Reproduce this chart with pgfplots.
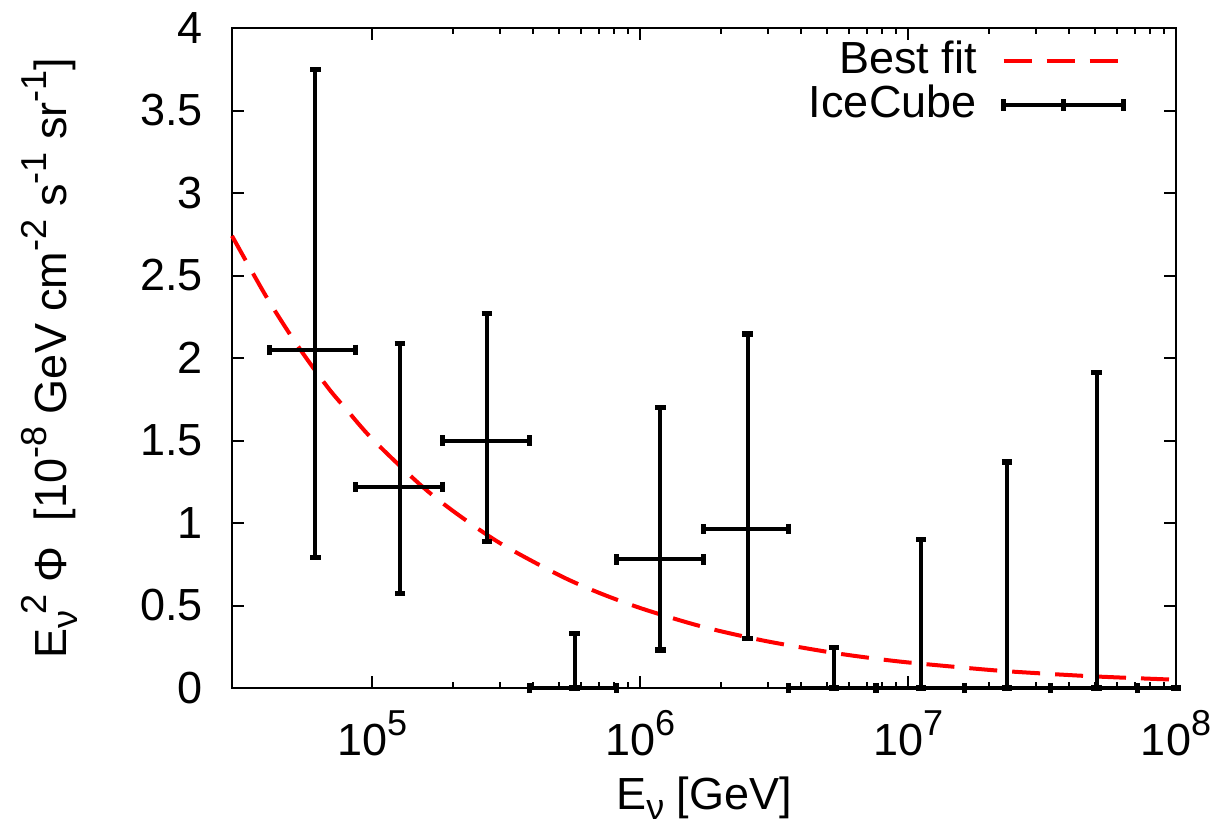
\documentclass[border=0pt]{standalone}
\usepackage{fontspec}
\setmainfont{Liberation Sans}
\usepackage{pgfplots}
\pgfplotsset{compat=1.18}
\newcommand{\sups}[1]{\raisebox{0.45em}{\fontsize{18}{18}\selectfont #1}}
\newcommand{\subs}[1]{\raisebox{-0.24em}{\fontsize{18}{18}\selectfont #1}}

% IceCube bins: centre, x-, x+, flux, y-, y+
\pgfplotstableread{
x          xm        xp        y      ym     yp
61400      20100     25200     2.05   1.26   1.70
127000     40400     56000     1.22   0.645  0.87
268000     85000     119000    1.50   0.61   0.77
570000     183000    248000    0      0      0.33
1190000    372000    540000    0.78   0.55   0.92
2520000    790000    1070000   0.965  0.665  1.18
5300000    1710000   2290000   0      0      0.245
11200000   3610000   5000000   0      0      0.90
23400000   7200000   10500000  0      0      1.37
50500000   16600000  21100000  0      0      1.91
100000000  28400000  0         0      0      0
}\icecube

\begin{document}
\fontsize{22.5}{27}\selectfont
\begin{tikzpicture}
\begin{axis}[
  scale only axis, width=472pt, height=330pt,
  clip=false,
  xmode=log, xmin=3e4, xmax=1e8, ymin=0, ymax=4,
  xtick={1e5,1e6,1e7,1e8},
  xticklabels={10\sups{5},10\sups{6},10\sups{7},10\sups{8}},
  ytick={0,0.5,1,1.5,2,2.5,3,3.5,4},
  yticklabels={0,0.5,1,1.5,2,2.5,3,3.5,4},
  minor y tick num=0,
  tick align=inside, tick pos=both,
  major tick length=6pt, minor tick length=3pt,
  every tick/.style={black, line width=1pt},
  axis line style={line width=1.1pt},
  ticklabel style={font=\fontsize{22.5}{27}\selectfont},
  yticklabel style={inner sep=0pt, xshift=-14.5pt},
  xticklabel style={inner sep=0pt, anchor=north, yshift=-11pt},
  xlabel={E\subs{ν} [GeV]},
  ylabel={E\subs{ν}\kern-0.1em\sups{2} Φ \ [10\sups{-8} GeV cm\sups{-2} s\sups{-1} sr\sups{-1}]},
  xlabel style={at={(axis description cs:0.5,0)}, anchor=north, inner sep=0pt, yshift=-44pt},
  ylabel style={at={(axis description cs:-0.163,0.5)}, anchor=south, inner sep=0pt},
  label style={font=\fontsize{22.5}{27}\selectfont},
  legend plot pos=right,
  legend cell align=right,
  legend style={draw=none, fill=none, at={(axis description cs:0.954,0.99)}, anchor=north east,
    font=\fontsize{22.5}{27}\selectfont, row sep=0pt,
    nodes={inner sep=0pt, text height=17pt, text depth=5pt}},
  legend image code/.code={\path[draw=none] (0pt,-0.1pt) rectangle (73.5pt,0.1pt); \draw[#1] (13.5pt,0pt) -- (73.5pt,0pt);},
]
\coordinate (sw) at (rel axis cs:0,0);
\coordinate (ne) at (rel axis cs:1,1);

\addplot[red, line width=2pt, dash pattern=on 14pt off 7.5pt, smooth] coordinates {
  (3e4,2.74) (4e4,2.38) (5e4,2.13) (6e4,1.945) (7e4,1.80) (8e4,1.69)
  (1e5,1.51) (1.5e5,1.237) (2e5,1.074) (3e5,0.878) (5e5,0.683) (7e5,0.578)
  (1e6,0.485) (1.5e6,0.397) (2e6,0.344) (3e6,0.282) (5e6,0.219) (7e6,0.185)
  (1e7,0.155) (2e7,0.110) (3e7,0.0904) (5e7,0.070) (1e8,0.050)
};
\addlegendentry{Best fit}

\addplot[black, draw=none, mark=none, forget plot,
  error bars/.cd,
    x dir=both, x explicit, y dir=both, y explicit,
    error bar style={draw=black, line width=2pt},
    error mark options={rotate=90, draw=black, line width=2.6pt, mark size=2.6pt},
  ] table[x=x, y=y, x error minus=xm, x error plus=xp, y error minus=ym, y error plus=yp] {\icecube};
\addlegendimage{legend image code/.code={
  \path[draw=none] (0pt,-0.1pt) rectangle (73.5pt,0.1pt);
  \draw[black, line width=2pt] (13.5pt,0pt) -- (73.5pt,0pt);
  \draw[black, line width=2.6pt] (13.5pt,-3pt) -- (13.5pt,3pt) (43.5pt,-3pt) -- (43.5pt,3pt) (73.5pt,-3pt) -- (73.5pt,3pt);}}
\addlegendentry{IceCube}
\end{axis}
\pgfresetboundingbox
\path ([shift={(-116pt,-66.5pt)}]sw) rectangle ([shift={(17.5pt,14pt)}]ne);
\end{tikzpicture}
\end{document}
